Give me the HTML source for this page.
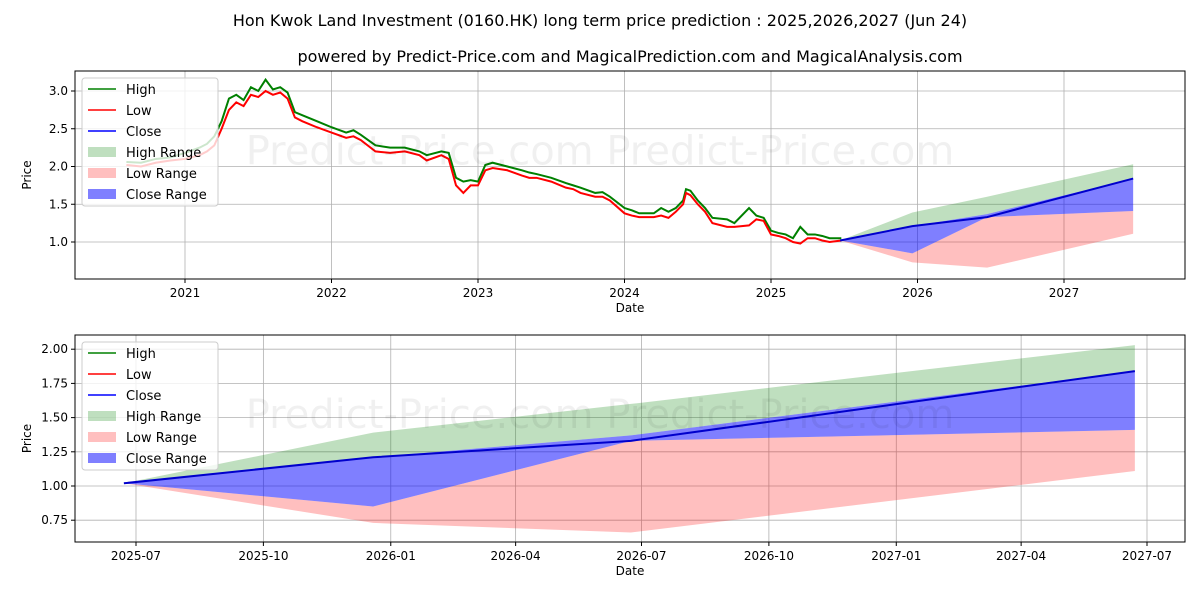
<!DOCTYPE html>
<html><head><meta charset="utf-8"><style>
body{margin:0;background:#fff;font-family:"Liberation Sans","DejaVu Sans",sans-serif;}
svg text{font-family:"DejaVu Sans","Liberation Sans",sans-serif;}
</style></head><body>
<svg id="c" width="1200" height="600" xmlns="http://www.w3.org/2000/svg">
<text x="600" y="26" text-anchor="middle" font-size="16">Hon Kwok Land Investment (0160.HK) long term price prediction : 2025,2026,2027 (Jun 24)</text>
<text x="630" y="62" text-anchor="middle" font-size="16">powered by Predict-Price.com and MagicalPrediction.com and MagicalAnalysis.com</text>
<g id="top"></g><g id="bot"></g>
</svg>
<script>
const histYears=[2020.6,2020.7,2020.8,2020.9,2021.0,2021.1,2021.15,2021.2,2021.25,2021.3,2021.35,2021.4,2021.45,2021.5,2021.55,2021.6,2021.65,2021.7,2021.75,2021.8,2021.9,2022.0,2022.1,2022.15,2022.2,2022.3,2022.4,2022.5,2022.6,2022.65,2022.75,2022.8,2022.85,2022.9,2022.95,2023.0,2023.05,2023.1,2023.2,2023.3,2023.35,2023.4,2023.5,2023.6,2023.65,2023.7,2023.8,2023.85,2023.9,2024.0,2024.05,2024.1,2024.2,2024.25,2024.3,2024.35,2024.4,2024.42,2024.45,2024.5,2024.55,2024.6,2024.7,2024.75,2024.85,2024.9,2024.95,2025.0,2025.05,2025.1,2025.15,2025.2,2025.25,2025.3,2025.35,2025.4,2025.48];
const histLow=[2.02,2.0,2.05,2.08,2.1,2.15,2.2,2.28,2.5,2.75,2.85,2.8,2.95,2.92,3.0,2.95,2.98,2.9,2.65,2.6,2.52,2.45,2.38,2.4,2.35,2.2,2.18,2.2,2.15,2.08,2.15,2.1,1.75,1.65,1.75,1.75,1.95,1.98,1.95,1.88,1.85,1.85,1.8,1.72,1.7,1.65,1.6,1.6,1.55,1.38,1.35,1.33,1.33,1.35,1.32,1.4,1.5,1.65,1.62,1.5,1.4,1.25,1.2,1.2,1.22,1.3,1.28,1.1,1.08,1.05,1.0,0.98,1.05,1.05,1.02,1.0,1.02];
const histHigh=[2.06,2.05,2.1,2.12,2.18,2.25,2.3,2.4,2.6,2.9,2.95,2.88,3.05,3.0,3.15,3.02,3.05,2.98,2.72,2.68,2.6,2.52,2.45,2.48,2.42,2.28,2.25,2.25,2.2,2.15,2.2,2.18,1.85,1.8,1.82,1.8,2.02,2.05,2.0,1.95,1.92,1.9,1.85,1.78,1.75,1.72,1.65,1.66,1.6,1.45,1.42,1.38,1.38,1.45,1.4,1.45,1.55,1.7,1.68,1.55,1.45,1.32,1.3,1.25,1.45,1.35,1.32,1.15,1.12,1.1,1.05,1.2,1.1,1.1,1.08,1.05,1.05];
const predYears=[2025.472,2025.965,2026.475,2027.472];
const predClose=[1.02,1.21,1.33,1.84];
const highTop=[1.02,1.39,1.60,2.03];
const closeTop=[1.02,1.21,1.37,1.84];
const closeBot=[1.02,0.85,1.33,1.41];
const lowTop=[1.02,0.85,1.33,1.41];
const lowBot=[1.02,0.73,0.66,1.11];
const topYTicks=[1.0,1.5,2.0,2.5,3.0];
const topXTicks=[2021,2022,2023,2024,2025,2026,2027];
const botYTicks=[0.75,1.00,1.25,1.50,1.75,2.00];
const botXTickLabels=["2025-07","2025-10","2026-01","2026-04","2026-07","2026-10","2027-01","2027-04","2027-07"];
const botXTickYears=[2025.496,2025.748,2026.0,2026.247,2026.496,2026.748,2027.0,2027.247,2027.496];

const NS="http://www.w3.org/2000/svg";
function mk(p,t,a){const e=document.createElementNS(NS,t);for(const k in a)e.setAttribute(k,a[k]);p.appendChild(e);return e;}
function chart(g,L,T,W,H,x,y,xt,xl,yt,yfmt,hist){
  mk(g,'rect',{x:L,y:T,width:W,height:H,fill:'#fff'});
  xt.forEach((v,i)=>{const X=x(v);
    const l=mk(g,'line',{x1:X,x2:X,y1:T,y2:T+H,stroke:'#b0b0b0','stroke-width':0.8});
    
    mk(g,'line',{x1:X,x2:X,y1:T+H,y2:T+H+4,stroke:'#000'});
    const t=mk(g,'text',{x:X,y:T+H+18,'text-anchor':'middle','font-size':12});t.textContent=xl[i];
    });
  yt.forEach(v=>{const Y=y(v);
    const l=mk(g,'line',{x1:L,x2:L+W,y1:Y,y2:Y,stroke:'#b0b0b0','stroke-width':0.8});
    
    mk(g,'line',{x1:L-4,x2:L,y1:Y,y2:Y,stroke:'#000'});
    const t=mk(g,'text',{x:L-7,y:Y+4,'text-anchor':'end','font-size':12});t.textContent=yfmt(v);
    });
  const band=(top,bot,col,op,nm)=>{let d='';predYears.forEach((v,i)=>d+=(i?'L':'M')+x(v)+','+y(top[i]));
    for(let i=predYears.length-1;i>=0;i--)d+='L'+x(predYears[i])+','+y(bot[i]);
    const p=mk(g,'path',{d:d+'Z',fill:col,'fill-opacity':op});};
  band(highTop,closeTop,'#008000',0.25,'high-range-band');
  band(lowTop,lowBot,'#ff0000',0.25,'low-range-band');
  band(closeTop,closeBot,'#0000ff',0.5,'close-range-band');
  if(hist){
    const line=(arr,col,nm)=>{let d='';histYears.forEach((v,i)=>d+=(i?'L':'M')+x(v)+','+y(arr[i]));
      const p=mk(g,'path',{d,fill:'none',stroke:col,'stroke-width':2});};
    line(histHigh,'#008000','high-line');line(histLow,'#ff0000','low-line');}
  let d='';predYears.forEach((v,i)=>d+=(i?'L':'M')+x(v)+','+y(predClose[i]));
  const cl=mk(g,'path',{d,fill:'none',stroke:'#0000cc','stroke-width':2});
  
  const wm=mk(g,'text',{x:L+W/2-30,y:T+H*0.45,'text-anchor':'middle','font-size':40,fill:'#000','fill-opacity':0.06});
  wm.textContent='Predict-Price.com    Predict-Price.com';
  
  mk(g,'rect',{x:L,y:T,width:W,height:H,fill:'none',stroke:'#000','stroke-width':1});
  const xl2=mk(g,'text',{x:L+W/2,y:T+H+33,'text-anchor':'middle','font-size':12});xl2.textContent='Date';
  
  const yl=mk(g,'text',{x:0,y:0,'text-anchor':'middle','font-size':12,transform:`translate(${L-44},${T+H/2}) rotate(-90)`});yl.textContent='Price';
  
  const lg=mk(g,'g',{});
  mk(lg,'rect',{x:L+7,y:T+7,width:136,height:128,rx:3,fill:'#fff','fill-opacity':0.8,stroke:'#ccc'});
  const items=[['High','#008000',0],['Low','#ff0000',0],['Close','#0000ff',0],['High Range','#008000',0.25],['Low Range','#ff0000',0.25],['Close Range','#0000ff',0.5]];
  items.forEach((it,i)=>{const Y=T+18+i*21;
    if(it[2]) mk(lg,'rect',{x:L+13,y:Y-5,width:28,height:10,fill:it[1],'fill-opacity':it[2]});
    else mk(lg,'line',{x1:L+13,x2:L+41,y1:Y,y2:Y,stroke:it[1],'stroke-width':1.5});
    const t=mk(lg,'text',{x:L+51,y:Y+5,'font-size':13});t.textContent=it[0];
    });
}
const tg=document.getElementById('top');

chart(tg,75,71,1110,208,v=>185+(v-2021)*146.5,v=>242-(v-1)*75.5,topXTicks,topXTicks.map(String),topYTicks,v=>v.toFixed(1),true);
const bg=document.getElementById('bot');

chart(bg,75,335,1110,207,v=>136+(v-2025.496)*505.5,v=>486-(v-1)*136.8,botXTickYears,botXTickLabels,botYTicks,v=>v.toFixed(2),false);
</script>
</body></html>
